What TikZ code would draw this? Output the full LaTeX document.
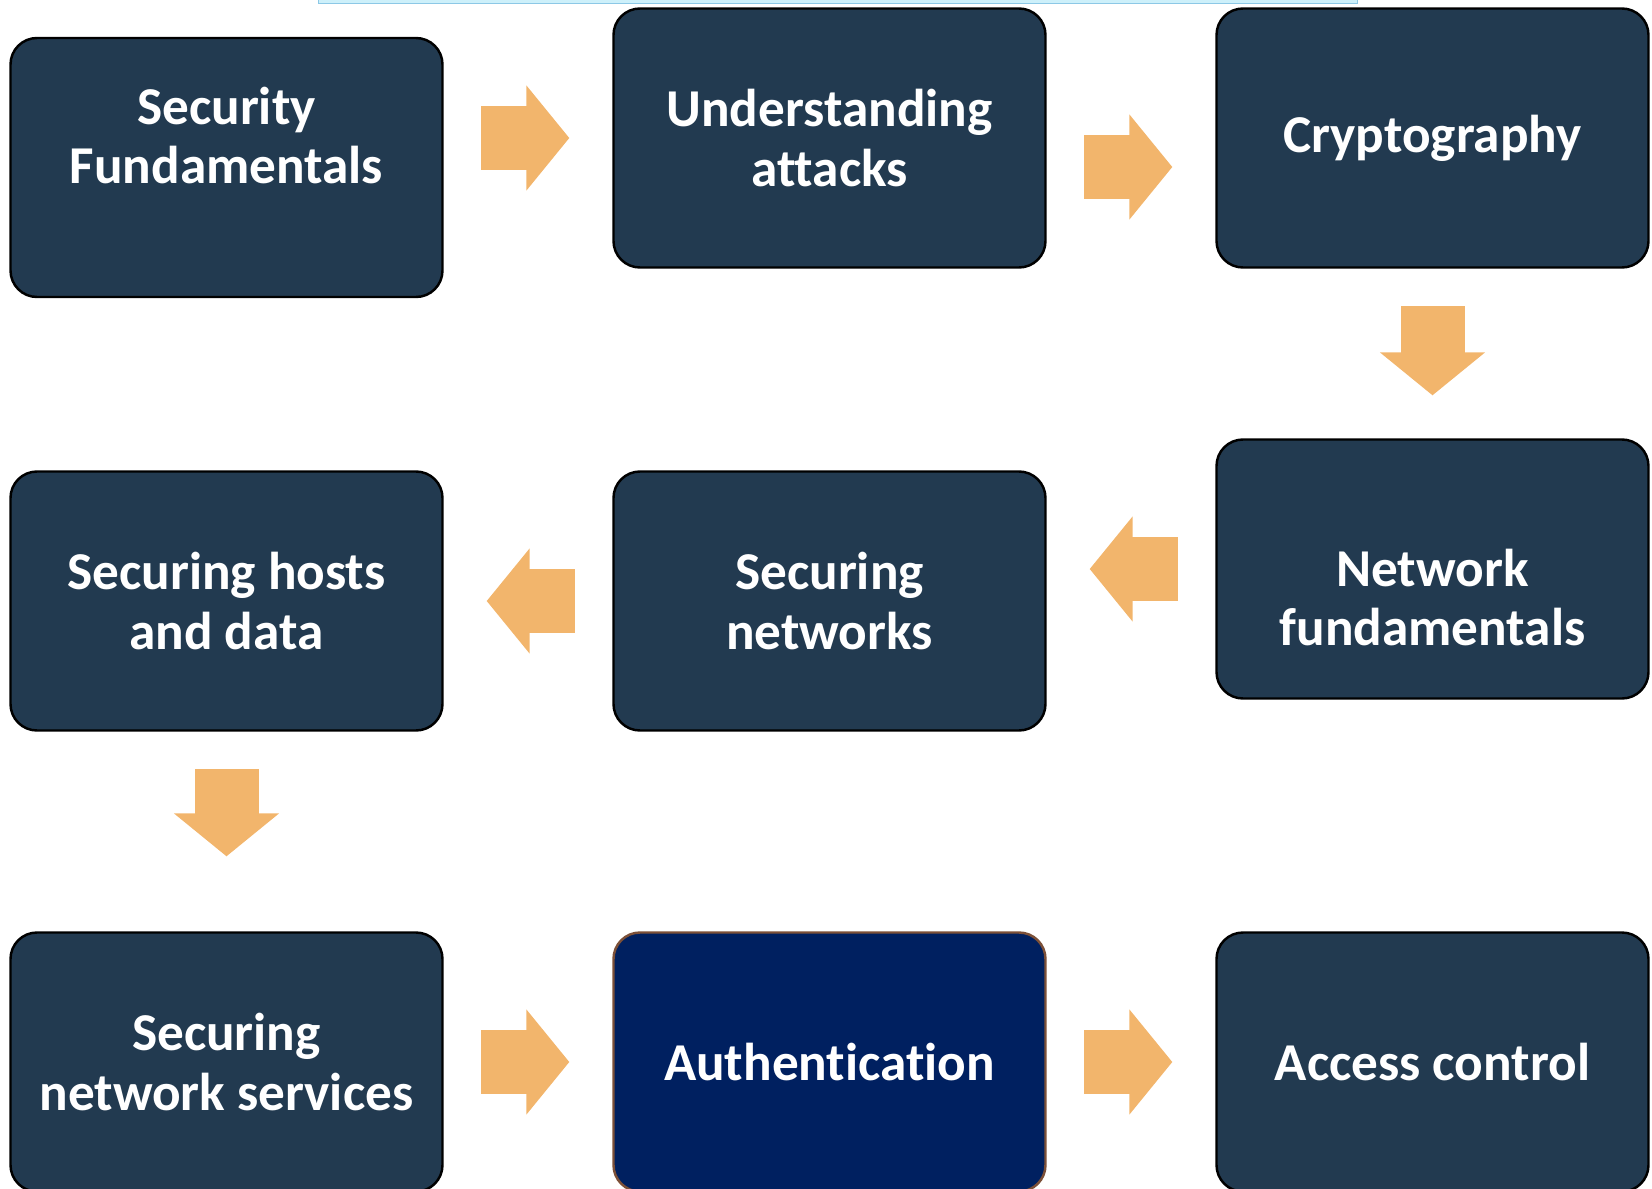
\documentclass[tikz,border=0pt]{standalone}
\usepackage{fontspec}
\setmainfont[Ligatures=NoCommon]{Carlito}
\usetikzlibrary{positioning,arrows.meta}
\definecolor{slate}{RGB}{34,58,80}
\definecolor{navy}{RGB}{0,32,96}
\definecolor{brownline}{RGB}{124,80,56}
\definecolor{peach}{RGB}{242,181,108}
\definecolor{skyfill}{RGB}{205,240,250}
\definecolor{skyline}{RGB}{140,200,230}
\newcommand{\shifted}[2]{\raisebox{#1}[\height][\depth]{\begin{tabular}{@{}c@{}}#2\end{tabular}}}

\begin{document}
\begin{tikzpicture}[node distance=12.06cm,on grid,
  topic/.style={draw=black,line width=1.4pt,fill=slate,rounded corners=0.53cm,
    minimum width=8.64cm,minimum height=5.18cm,align=center,text=white,
    font=\bfseries\fontsize{30.3}{33.6}\selectfont},
  flow/.style={color=peach,line width=1.28cm,shorten <=0.75cm,shorten >=0.86cm,
    -{Triangle[length=0.86cm,width=2.1cm,line width=1.5pt]}}]
\useasboundingbox (0,0) rectangle (33.04,-23.78);
\draw[skyline,fill=skyfill] (6.36,0.2) rectangle (27.14,-0.06);
\node[topic] (Fund) at (4.53,-3.35) {\shifted{0.51cm}{Security\\Fundamentals}};
\node[topic] (Attacks) [above right=0.59cm and 12.06cm of Fund] {Understanding\\attacks};
\node[topic] (Crypto) [right=of Attacks] {Cryptography};
\node[topic] (NetFund) [below=8.62cm of Crypto] {\shifted{-0.71cm}{Network\\fundamentals}};
\node[topic] (Networks) [below left=0.64cm and 12.06cm of NetFund] {Securing\\networks};
\node[topic] (Hosts) [left=of Networks] {Securing hosts\\and data};
\node[topic] (Services) [below=9.22cm of Hosts] {Securing\\network services};
\node[topic,fill=navy,draw=brownline] (Auth) [right=of Services] {Authentication};
\node[topic] (Access) [right=of Auth] {Access control};
\path[flow]
	(Fund.east |- Attacks) edge (Attacks.west)
	([yshift=-0.58cm]Attacks.east) edge ([yshift=-0.58cm]Crypto.west)
	(Crypto.south) edge (NetFund.north)
	(NetFund.west) edge (NetFund.west -| Networks.east)
	(Networks.west) edge (Hosts.east)
	(Hosts.south) edge[shorten >=1.5cm] (Services.north)
	(Services.east) edge (Services.east -| Auth.west)
	(Auth.east) edge (Access.west);
\end{tikzpicture}
\end{document}
